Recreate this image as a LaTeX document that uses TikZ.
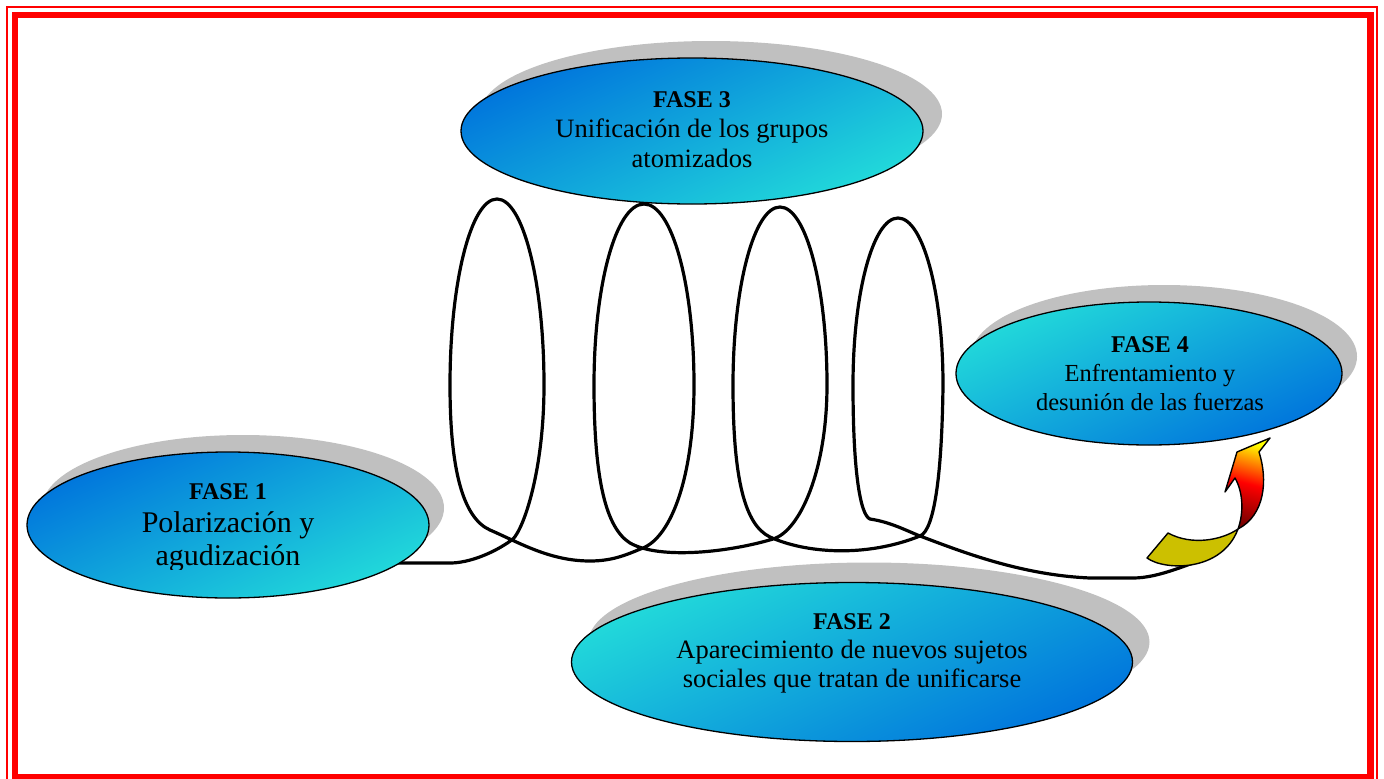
\documentclass[tikz,border=0pt]{standalone}
\usepackage{fontspec}
\setmainfont{Liberation Serif}
\usetikzlibrary{shapes.geometric}
\definecolor{dblue}{RGB}{0,116,220}
\definecolor{cyanx}{RGB}{34,218,218}
\definecolor{shadowgray}{RGB}{192,192,192}
\definecolor{olivey}{RGB}{204,192,0}
\definecolor{dred}{RGB}{120,0,0}
\definecolor{brdred}{RGB}{255,0,0}
\newcommand\phasetitle[1]{{\fontsize{24}{29}\selectfont\bfseries #1}}
\begin{document}
\begin{tikzpicture}[x=1pt,y=-1pt,
  phase/.style={ellipse, draw=black, line width=1.3pt, inner sep=0pt},
  shadowe/.style={ellipse, fill=shadowgray, inner sep=0pt},
  darklight/.style={top color=dblue, bottom color=cyanx, shading angle=25},
  lightdark/.style={top color=cyanx, bottom color=dblue, shading angle=25},
  txt/.style={align=center, text=black, inner sep=0pt},
  spiralline/.style={line width=3.2pt, black, line join=miter},
  arrowline/.style={draw=black, line width=1.4pt, line join=round}]
\useasboundingbox (0,0) rectangle (1384,779);
% border
\draw[brdred, line width=2pt] (7,7) rectangle (1377,790);
\draw[brdred, line width=6.6pt] (15,15) rectangle (1370.5,777.5);
% shadows
\node[shadowe, minimum width=402pt, minimum height=146pt] (f1s) at (243,508) {};
\node[shadowe, minimum width=462pt, minimum height=146pt] (f3s) at (711,114) {};
\node[shadowe, minimum width=386pt, minimum height=143pt] (f4s) at (1164,356.5) {};
\node[shadowe, minimum width=561pt, minimum height=159pt] (f2s) at (869,642) {};
% spiral
\coordinate (s) at (398,563);
\coordinate (e) at (1213,556);
\draw[spiralline] (s) -- (452,563)
  .. controls (475,562) and (500,549) .. (513,539)
  % loop 1
  .. controls (524,528) and (544,470) .. (544,385)
  .. controls (544,282) and (523,199) .. (497,199)
  .. controls (471,199) and (450,282) .. (450,385)
  .. controls (450,470) and (463,518) .. (490,530)
  .. controls (520,543) and (550,561) .. (590,561)
  .. controls (615,561) and (630,553) .. (643,548)
  % loop 2
  .. controls (672,536) and (694,475) .. (694,385)
  .. controls (694,285) and (672,204) .. (644,204)
  .. controls (616,204) and (594,285) .. (594,385)
  .. controls (594,480) and (606,528) .. (630,543)
  .. controls (660,560) and (730,552) .. (773,539)
  % loop 3
  .. controls (800,531) and (827,470) .. (827,385)
  .. controls (827,287) and (806,207) .. (780,207)
  .. controls (754,207) and (733,287) .. (733,385)
  .. controls (733,480) and (745,525) .. (770,537)
  .. controls (805,553) and (865,558) .. (920,536)
  % loop 4
  .. controls (935,530) and (942,470) .. (943,385)
  .. controls (943,293) and (923,218) .. (898,218)
  .. controls (873,218) and (853,293) .. (853,385)
  .. controls (853,470) and (860,515) .. (870,519)
  .. controls (890,522) and (905,530) .. (920,536)
  .. controls (960,551) and (1020,575) .. (1090,578)
  -- (1133,578)
  .. controls (1160,578) and (1190,563) .. (e);
% ellipses
\node[phase, darklight, minimum width=402pt, minimum height=146pt] (f1) at (228,525) {};
\node[phase, darklight, minimum width=462pt, minimum height=146pt] (f3) at (692,131) {};
\node[phase, lightdark, minimum width=386pt, minimum height=143pt] (f4) at (1149,373.5) {};
\node[phase, lightdark, minimum width=561pt, minimum height=159pt] (f2) at (852,662) {};
% texts
\begin{scope}
\clip (30,440) rectangle (430,569);
\node[txt, font=\fontsize{30}{33}\selectfont] (t1) at (228,528)
  {\phasetitle{FASE 1}\\Polarización y\\agudización};
\end{scope}
\node[txt, font=\fontsize{26.5}{30}\selectfont] (t3) at (692,130)
  {\phasetitle{FASE 3}\\Unificación de los grupos\\atomizados};
\node[txt, font=\fontsize{24.5}{29}\selectfont] (t4) at (1150,374)
  {\phasetitle{FASE 4}\\Enfrentamiento y\\desunión de las fuerzas};
\node[txt, font=\fontsize{26.5}{29}\selectfont] (t2) at (852,653)
  {\phasetitle{FASE 2}\\Aparecimiento de nuevos sujetos\\sociales que tratan de unificarse};
% curved arrow: tail
\fill[olivey] (1238,529) .. controls (1222,540) and (1192,546) .. (1168,533)
  -- (1147,558) .. controls (1165,571) and (1222,572) .. (1238,529) -- cycle;
% curved arrow: shaft and head
\shade[top color=yellow, bottom color=dred, middle color=red, shading angle=-15]
  (1238,529) .. controls (1244,512) and (1243,492) .. (1235,478)
  -- (1225,492) -- (1237,452) -- (1270,438) -- (1259,452)
  .. controls (1268,480) and (1265,515) .. (1238,529) -- cycle;
\draw[arrowline] (1238,529) .. controls (1222,540) and (1192,546) .. (1168,533)
  -- (1147,558) .. controls (1165,571) and (1222,572) .. (1238,529);
\draw[arrowline] (1238,529) .. controls (1244,512) and (1243,492) .. (1235,478)
  -- (1225,492) -- (1237,452) -- (1270,438) -- (1259,452)
  .. controls (1268,480) and (1265,515) .. (1238,529) -- cycle;
\end{tikzpicture}
\end{document}
